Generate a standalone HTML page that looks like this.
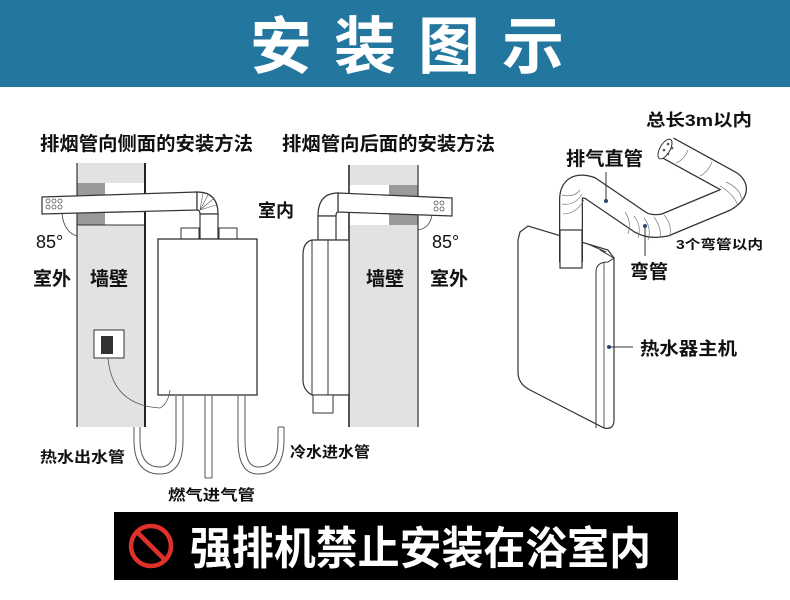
<!DOCTYPE html>
<html><head><meta charset="utf-8"><style>
html,body{margin:0;padding:0;background:#fff;width:790px;height:600px;overflow:hidden}
svg{display:block}
text{font-family:"Liberation Sans","Noto Sans CJK SC",sans-serif;font-weight:bold;fill:#111}
</style></head><body>
<svg width="790" height="600" viewBox="0 0 790 600" xmlns="http://www.w3.org/2000/svg">
<rect x="0" y="0" width="790" height="87" fill="#23779f"/>
<text x="250" y="68" font-size="62" textLength="314" lengthAdjust="spacing" style="fill:#fff">安装图示</text>

<g font-size="19">
<text x="40" y="150" textLength="213" lengthAdjust="spacingAndGlyphs">排烟管向侧面的安装方法</text>
<text x="282" y="150" textLength="213" lengthAdjust="spacingAndGlyphs">排烟管向后面的安装方法</text>
</g>

<!-- left wall -->
<rect x="77" y="163" width="68" height="264" fill="#e2e2e2"/>
<rect x="77" y="183" width="28" height="12" fill="#9a9a9a"/>
<rect x="105" y="183" width="40" height="12" fill="#fff"/>
<rect x="77" y="213" width="28" height="12" fill="#9a9a9a"/>
<rect x="105" y="213" width="40" height="12" fill="#fff"/>
<line x1="77" y1="163" x2="77" y2="427" stroke="#333" stroke-width="1.2"/>
<line x1="145" y1="163" x2="145" y2="427" stroke="#222" stroke-width="2"/>
<line x1="77" y1="225" x2="145" y2="225" stroke="#333" stroke-width="1"/>
<polygon points="42,197 197,192 197,210 42,214" fill="#fff" stroke="#333" stroke-width="1.2"/>
<g fill="none" stroke="#555" stroke-width="0.8"><circle cx="48" cy="201" r="2"/><circle cx="54" cy="201" r="2"/><circle cx="60" cy="201" r="2"/><circle cx="48" cy="207" r="2"/><circle cx="54" cy="207" r="2"/><circle cx="60" cy="207" r="2"/></g>
<path d="M197,192 Q218,192 218,214 L200,214 Q200,210 197,210 Z" fill="#fff" stroke="#333" stroke-width="1.2"/>
<g stroke="#555" stroke-width="0.6"><line x1="200" y1="210" x2="203" y2="193"/><line x1="200" y1="210" x2="208" y2="195"/><line x1="200" y1="210" x2="213" y2="199"/><line x1="200" y1="210" x2="216" y2="205"/></g>
<rect x="200" y="214" width="18" height="25" fill="#fff" stroke="#333" stroke-width="1.2"/>
<rect x="181" y="228" width="18" height="11" fill="#fff" stroke="#333"/>
<rect x="219" y="228" width="18" height="11" fill="#fff" stroke="#333"/>
<path d="M62,214 Q64,232 77,236" fill="none" stroke="#333" stroke-width="0.8"/>
<text x="36" y="248" font-size="18" style="font-weight:normal">85°</text>
<rect x="158" y="239" width="99" height="156" fill="#fff" stroke="#333" stroke-width="1.3"/>
<rect x="94" y="330" width="30" height="28" fill="#fff" stroke="#333"/>
<rect x="101" y="336" width="12" height="18" fill="#333"/>
<path d="M108,358 Q112,405 160,408 Q168,404 170,390" fill="none" stroke="#555" stroke-width="0.8"/>
<g fill="none" stroke="#555" stroke-width="1">
<path d="M176,396 L176,440 Q176,467 160,467 Q140,467 140,440 L140,427"/>
<path d="M183,396 L183,440 Q183,474 160,474 Q134,474 134,440 L134,427"/>
<path d="M205,396 L205,478 M212,396 L212,478 M205,478 L212,478"/>
<path d="M238,396 L238,440 Q238,474 258,474 Q284,474 284,440 L284,427"/>
<path d="M245,396 L245,440 Q245,467 258,467 Q278,467 278,440 L278,427"/>
<path d="M278,427 L284,427"/>
</g>
<text x="258" y="217" font-size="18">室内</text>
<text x="33" y="285" font-size="19">室外</text>
<text x="90" y="285" font-size="19">墙壁</text>
<text x="40" y="462" font-size="15" textLength="85" lengthAdjust="spacingAndGlyphs">热水出水管</text>
<text x="290" y="457" font-size="15" textLength="80" lengthAdjust="spacingAndGlyphs">冷水进水管</text>
<text x="168" y="500" font-size="15" textLength="87" lengthAdjust="spacingAndGlyphs">燃气进气管</text>

<!-- right wall -->
<rect x="349" y="165" width="69" height="262" fill="#e2e2e2"/>
<rect x="349" y="185" width="40" height="12" fill="#fff"/>
<rect x="389" y="185" width="29" height="12" fill="#9a9a9a"/>
<rect x="349" y="213" width="40" height="12" fill="#fff"/>
<rect x="389" y="213" width="29" height="12" fill="#9a9a9a"/>
<line x1="349" y1="165" x2="349" y2="427" stroke="#222" stroke-width="1.5"/>
<line x1="418" y1="165" x2="418" y2="427" stroke="#333" stroke-width="1.2"/>
<polygon points="338,193 452,198 452,216 338,212" fill="#fff" stroke="#333" stroke-width="1.2"/>
<g fill="none" stroke="#555" stroke-width="0.8"><circle cx="436" cy="203" r="2"/><circle cx="442" cy="203" r="2"/><circle cx="436" cy="209" r="2"/><circle cx="442" cy="209" r="2"/></g>
<path d="M338,193 Q318,193 318,216 L336,216 Q336,212 338,212 Z" fill="#fff" stroke="#333" stroke-width="1.2"/>
<rect x="318" y="216" width="18" height="24" fill="#fff" stroke="#333" stroke-width="1.2"/>
<path d="M418,230 Q430,228 432,215" fill="none" stroke="#333" stroke-width="0.8"/>
<text x="432" y="248" font-size="18" style="font-weight:normal">85°</text>
<path d="M312,240 L349,240 L349,395 L312,395 Q303,390 303,380 L303,255 Q303,242 312,240 Z" fill="#fff" stroke="#333" stroke-width="1.2"/>
<line x1="312" y1="240" x2="312" y2="395" stroke="#333"/>
<line x1="328" y1="240" x2="328" y2="395" stroke="#333"/>
<rect x="313" y="395" width="20" height="18" fill="#fff" stroke="#333"/>
<text x="366" y="285" font-size="19">墙壁</text>
<text x="430" y="285" font-size="19">室外</text>

<!-- right isometric heater -->
<path d="M520,232 L528,226 L608,250 L614,258 L614,420 Q614,430 604,428 L530,390 Q518,384 518,372 L518,240 Z" fill="#fff" stroke="#333" stroke-width="1.2"/>
<path d="M600,250 L614,258 L608,262 Q596,262 596,272 L596,428" fill="none" stroke="#333"/>
<line x1="604" y1="262" x2="604" y2="428" stroke="#333" stroke-width="0.8"/>
<line x1="588" y1="244" x2="606" y2="252" stroke="#333"/>
<!-- pipe -->
<path d="M571,262 L571,200 Q571,182 590,188 L640,222 Q650,228 665,225 L725,200 Q742,190 730,182 L668,148" fill="none" stroke="#333" stroke-width="24" stroke-linejoin="round" stroke-linecap="butt"/>
<path d="M571,262 L571,200 Q571,182 590,188 L640,222 Q650,228 665,225 L725,200 Q742,190 730,182 L668,148" fill="none" stroke="#fff" stroke-width="21.5" stroke-linejoin="round" stroke-linecap="butt"/>
<ellipse cx="665" cy="149" rx="5" ry="11" transform="rotate(30 665 149)" fill="#fff" stroke="#333"/>
<rect x="560" y="230" width="22" height="38" fill="#fff" stroke="#333" stroke-width="1.2"/>
<g stroke="#777" stroke-width="0.7" fill="none">
<path d="M625,212 Q632,222 628,234 M634,216 Q642,226 638,238 M644,218 Q652,228 648,240 M654,217 Q662,228 660,238 M664,215 Q672,224 670,234"/>
<path d="M562,195 Q574,198 580,190 M562,204 Q575,206 582,194 M563,214 Q576,214 584,200"/>
<path d="M720,186 Q734,194 738,206 M726,182 Q740,188 742,200"/>
<path d="M676,163 Q684,160 688,150 M700,176 Q708,172 712,162"/>
</g>
<g fill="#555"><circle cx="668" cy="144" r="1.3"/><circle cx="672" cy="148" r="1.3"/><circle cx="664" cy="150" r="1.3"/><circle cx="668" cy="154" r="1.3"/></g>
<g fill="#2a4a7a"><circle cx="606" cy="201" r="2"/><circle cx="645" cy="226" r="2"/><circle cx="609" cy="347" r="2"/></g>
<g stroke="#333" stroke-width="1"><line x1="606" y1="172" x2="606" y2="201"/><line x1="645" y1="226" x2="645" y2="256"/><line x1="609" y1="347" x2="633" y2="347"/></g>
<text x="646" y="126" font-size="17" textLength="106" lengthAdjust="spacingAndGlyphs">总长3m以内</text>
<text x="566" y="165" font-size="19" textLength="77" lengthAdjust="spacingAndGlyphs">排气直管</text>
<text x="676" y="249" font-size="13" textLength="87" lengthAdjust="spacingAndGlyphs">3个弯管以内</text>
<text x="630" y="278" font-size="19">弯管</text>
<text x="640" y="355" font-size="18" textLength="97" lengthAdjust="spacingAndGlyphs">热水器主机</text>

<!-- bottom banner -->
<rect x="114" y="512" width="564" height="68" fill="#000"/>
<circle cx="151" cy="546" r="20" fill="none" stroke="#e0302c" stroke-width="4.5"/>
<line x1="137" y1="532" x2="165" y2="560" stroke="#e0302c" stroke-width="4.5"/>
<text x="190" y="564" font-size="45" textLength="461" lengthAdjust="spacingAndGlyphs" style="fill:#fff">强排机禁止安装在浴室内</text>
</svg>
</body></html>
